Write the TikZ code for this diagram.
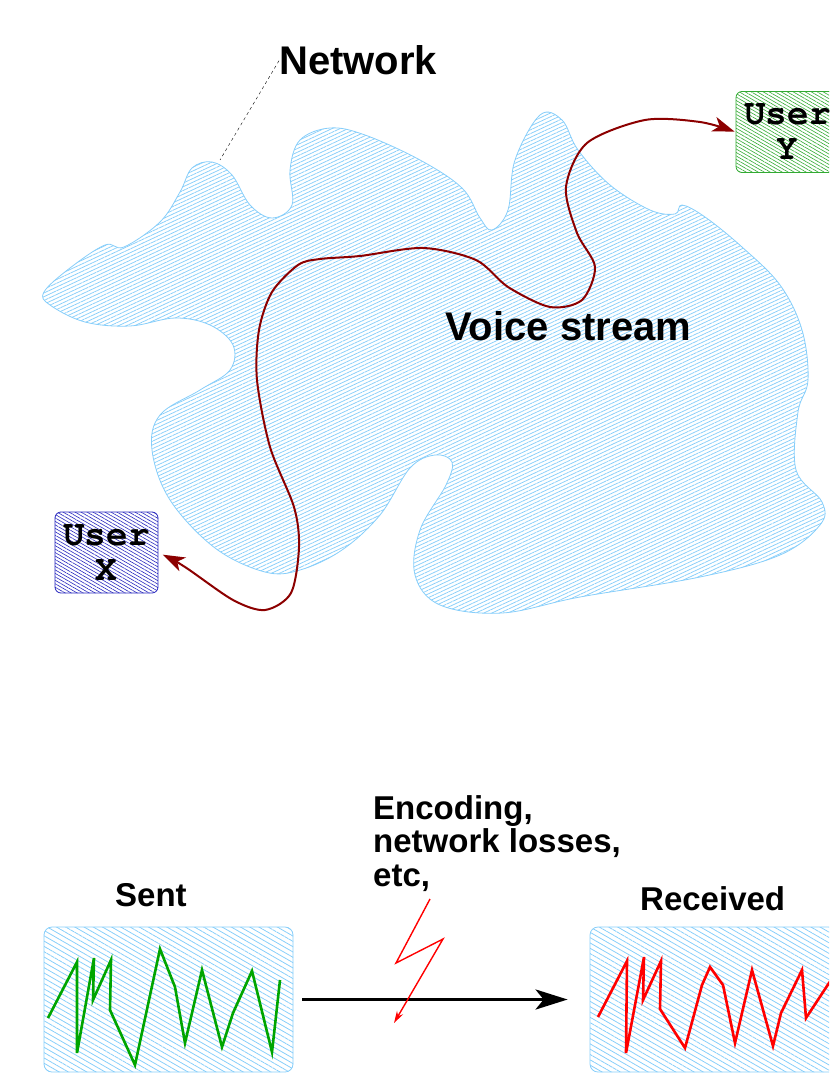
\documentclass[tikz,border=0pt]{standalone}
\usepackage{fontspec}
\setmainfont{Liberation Sans}
\newfontfamily\usrfont{texgyrecursor-bold.otf}
\usepackage{tikz}
\usetikzlibrary{arrows.meta, patterns.meta, positioning}
\definecolor{netblue}{RGB}{135,206,250}
\definecolor{voicered}{RGB}{140,0,0}
\definecolor{userblue}{RGB}{40,40,190}
\definecolor{usergreen}{RGB}{50,170,50}
\definecolor{sentgreen}{RGB}{0,165,0}

\begin{document}
\begin{tikzpicture}[x=1pt, y=-1pt,
    user/.style={draw, rounded corners=6pt, line width=0.8pt, minimum width=103pt, minimum height=81pt, inner sep=0pt, align=center, font=\usrfont\fontsize{36}{35}\selectfont},
    lbl/.style={font=\bfseries\fontsize{33}{33.5}\selectfont, inner sep=0pt},
    big/.style={font=\bfseries\fontsize{40}{40}\selectfont, inner sep=0pt},
    screen/.style={draw=netblue, rounded corners=8pt, line width=0.8pt, minimum width=249pt, minimum height=145pt, pattern={Lines[angle=-30,distance=4.6pt,line width=0.8pt]}, pattern color=netblue},
    wave/.style={line width=2.6pt},
    stream/.style={voicered, line width=2pt, arrows={Stealth[length=22pt,width=15pt,inset=6pt]-Stealth[length=22pt,width=15pt,inset=6pt]}}]
    \useasboundingbox (0,0) rectangle (829,1075);
    \clip (0,0) rectangle (829,1075);
    % \tikzstyle{every node}=[font=\bfseries]

    % the network cloud
    \draw[netblue, line width=0.8pt, pattern={Lines[angle=25,distance=3.4pt,line width=0.75pt]}, pattern color=netblue]
        plot[smooth cycle, tension=0.6] coordinates {(44,292) (70,268) (105,245) (124,247) (160,222) (180,192) (192,168) (212,162) (232,175) (250,205) (272,218) (292,205) (290,170) (300,140) (330,128) (365,135) (420,160) (462,188) (480,218) (492,230) (508,210) (515,160) (540,115) (562,120) (578,150) (610,185) (650,210) (675,214) (682,205) (705,217) (742,247) (780,285) (802,330) (808,380) (798,412) (796,470) (822,502) (820,525) (780,555) (700,577) (580,597) (502,613) (440,605) (415,575) (420,530) (446,485) (452,462) (435,455) (410,468) (380,515) (342,550) (300,570) (265,572) (215,548) (170,500) (152,450) (160,415) (200,390) (230,370) (233,345) (210,325) (175,318) (130,326) (85,322) (50,305)};

    \node[big, anchor=base west] (N) at (279,75) {Network};
    \coordinate (c) at (220,160);
    \draw[dashed, thin] (N.west) -- (c);

    \node[big, anchor=base west] (V) at (445,340) {Voice stream};

    \node[user, draw=userblue, pattern={Lines[angle=-30,distance=3pt,line width=0.6pt]}, pattern color=userblue] (UX) at (106.5,552.5) {User\\X};
    \node[user, draw=usergreen, pattern={Lines[angle=-30,distance=3pt,line width=0.6pt]}, pattern color=usergreen] (UY) at (787.5,132) {User\\Y};

    \draw[stream, shorten <=5pt, shorten >=1pt] plot[smooth] coordinates {(UX.east) (185,567) (233,600) (265,610) (291,593) (299,547) (294,507) (270,447) (257,380) (259,330) (272,292) (298,265) (320,259) (360,256) (423,248) (476,260) (508,287) (550,307) (582,300) (595,267) (577,233) (566,187) (587,143) (645,120) (700,122) (UY.west)};

    % sent / received
    \node[screen] (S) at (168.5,999.5) {};
    \node[screen] (R) at (714.5,999.5) {};
    \node[lbl, anchor=base west] (st) at (115,906) {Sent};
    \node[lbl, anchor=base west] (rc) at (640,910) {Received};
    \node[lbl, anchor=north west, align=left] (E) at (373,795) {Encoding,\\network losses,\\etc,};

    \draw[sentgreen, wave] plot coordinates {(48,1018) (77,962) (77,1053) (94,958) (93,1000) (111,960) (110,1010) (135,1065) (160,949) (175,987) (185,1043) (202,970) (222,1047) (233,1013) (252,971) (272,1052) (280,980)};
    \draw[red, wave] plot coordinates {(598,1017) (627,961) (626,1053) (644,957) (643,1000) (661,961) (660,1009) (685,1048) (702,985) (710,967) (723,985) (735,1043) (752,970) (773,1046) (781,1013) (802,970) (806,1018) (829,983) (850,955)};

    \draw[line width=3.5pt, -{Stealth[length=32pt,width=20pt,inset=8pt]}, shorten <=9pt, shorten >=22pt] (S.east) -- (R.west);
    \draw[red, line width=1.4pt, -{Stealth[length=12pt,width=7pt]}] (430,899) -- (396,963) -- (443,939) -- (394,1023);
\end{tikzpicture}
\end{document}
